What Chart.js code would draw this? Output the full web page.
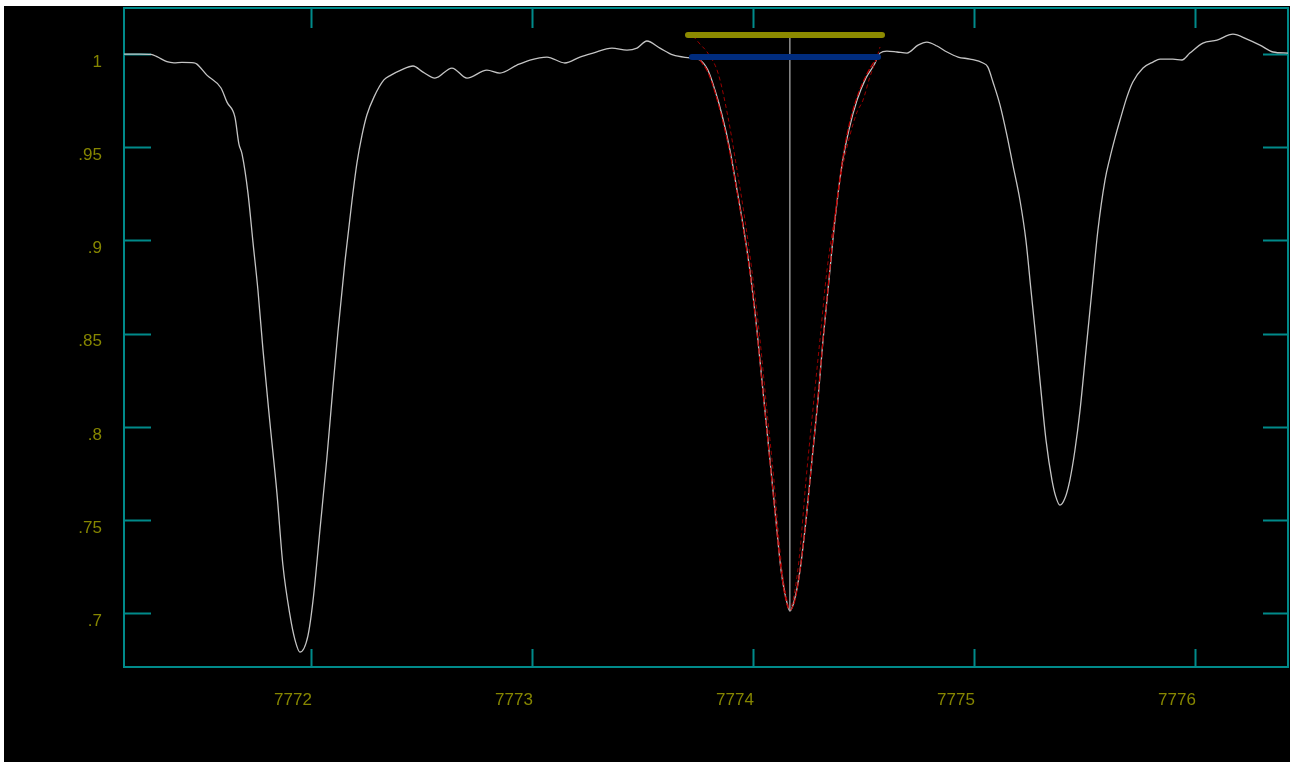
<!DOCTYPE html>
<html>
<head>
<meta charset="utf-8">
<script src="https://cdn.jsdelivr.net/npm/chart.js"></script>
<style>
  html, body { margin: 0; padding: 0; background: #ffffff; }
  #wrap { position: absolute; left: 4px; top: 6px; width: 1286px; height: 756px; background: #000000; }
</style>
</head>
<body>
<div id="wrap"><canvas id="spec" width="1286" height="756"></canvas></div>
<script>
// axis ranges and ticks //
const xMin = 7771.154, xMax = 7776.421;
const yMin = 0.6712, yMax = 1.0247;
const xTicks = [7772, 7773, 7774, 7775, 7776];
const xTickLabels = ['7772', '7773', '7774', '7775', '7776'];
const yTicks = [0.7, 0.75, 0.8, 0.85, 0.9, 0.95, 1];
const yTickLabels = ['.7', '.75', '.8', '.85', '.9', '.95', '1'];

// observed spectrum //
const waveObs = [
  7771.154, 7771.226, 7771.276, 7771.303, 7771.348, 7771.380, 7771.416, 7771.471, 7771.484, 7771.529,
  7771.593, 7771.620, 7771.656, 7771.674, 7771.688, 7771.715, 7771.738, 7771.760, 7771.783, 7771.814,
  7771.846, 7771.873, 7771.905, 7771.928, 7771.950, 7771.986, 7772.009, 7772.041, 7772.072, 7772.100,
  7772.122, 7772.154, 7772.186, 7772.208, 7772.231, 7772.253, 7772.285, 7772.330, 7772.362, 7772.407,
  7772.462, 7772.507, 7772.561, 7772.638, 7772.706, 7772.796, 7772.855, 7772.932, 7772.991, 7773.068,
  7773.149, 7773.217, 7773.276, 7773.362, 7773.430, 7773.475, 7773.520, 7773.579, 7773.638, 7773.715,
  7773.760, 7773.796, 7773.828, 7773.860, 7773.896, 7773.928, 7773.959, 7773.986, 7774.018, 7774.045,
  7774.077, 7774.104, 7774.127, 7774.149, 7774.167, 7774.190, 7774.213, 7774.240, 7774.267, 7774.294,
  7774.317, 7774.344, 7774.371, 7774.403, 7774.434, 7774.471, 7774.511, 7774.548, 7774.575, 7774.606,
  7774.652, 7774.697, 7774.747, 7774.787, 7774.833, 7774.878, 7774.928, 7774.982, 7775.041, 7775.063,
  7775.086, 7775.118, 7775.149, 7775.176, 7775.208, 7775.235, 7775.258, 7775.281, 7775.303, 7775.326,
  7775.353, 7775.371, 7775.389, 7775.412, 7775.434, 7775.457, 7775.480, 7775.507, 7775.534, 7775.561,
  7775.593, 7775.615, 7775.638, 7775.661, 7775.692, 7775.719, 7775.765, 7775.810, 7775.842, 7775.900,
  7775.941, 7775.977, 7776.036, 7776.100, 7776.172, 7776.235, 7776.294, 7776.353, 7776.421
];
const fluxObs = [
  1.0000, 1.0000, 0.9998, 0.9986, 0.9959, 0.9953, 0.9955, 0.9953, 0.9946, 0.9887,
  0.9818, 0.9742, 0.9662, 0.9517, 0.9464, 0.9254, 0.8986, 0.8734, 0.8412, 0.8026,
  0.7645, 0.7259, 0.6990, 0.6856, 0.6792, 0.6878, 0.7065, 0.7452, 0.7833, 0.8219,
  0.8509, 0.8889, 0.9217, 0.9415, 0.9565, 0.9673, 0.9769, 0.9861, 0.9887, 0.9914,
  0.9936, 0.9903, 0.9871, 0.9925, 0.9871, 0.9914, 0.9898, 0.9941, 0.9968, 0.9984,
  0.9952, 0.9984, 1.0005, 1.0032, 1.0021, 1.0032, 1.0070, 1.0032, 0.9995, 0.9979,
  0.9968, 0.9914, 0.9807, 0.9673, 0.9485, 0.9270, 0.9056, 0.8841, 0.8519, 0.8197,
  0.7822, 0.7500, 0.7232, 0.7082, 0.7012, 0.7082, 0.7232, 0.7500, 0.7822, 0.8144,
  0.8466, 0.8788, 0.9109, 0.9405, 0.9592, 0.9753, 0.9871, 0.9941, 1.0005, 1.0016,
  1.0011, 1.0005, 1.0048, 1.0064, 1.0043, 1.0011, 0.9984, 0.9973, 0.9952, 0.9930,
  0.9850, 0.9726, 0.9565, 0.9405, 0.9217, 0.9002, 0.8734, 0.8466, 0.8197, 0.7929,
  0.7715, 0.7623, 0.7580, 0.7618, 0.7715, 0.7876, 0.8090, 0.8412, 0.8734, 0.9056,
  0.9324, 0.9442, 0.9549, 0.9646, 0.9769, 0.9850, 0.9925, 0.9957, 0.9973, 0.9973,
  0.9968, 1.0005, 1.0059, 1.0075, 1.0107, 1.0080, 1.0048, 1.0011, 1.0005
];

// line fit //
const waveFit = [
  7773.760, 7773.796, 7773.828, 7773.860, 7773.896, 7773.928, 7773.959, 7773.986, 7774.018, 7774.045,
  7774.077, 7774.104, 7774.127, 7774.149, 7774.167, 7774.190, 7774.213, 7774.240, 7774.267, 7774.294,
  7774.317, 7774.344, 7774.371, 7774.403, 7774.434, 7774.471, 7774.511, 7774.548, 7774.566
];
const fluxFit = [
  0.9968, 0.9903, 0.9796, 0.9657, 0.9469, 0.9260, 0.9045, 0.8830, 0.8509, 0.8187,
  0.7811, 0.7489, 0.7232, 0.7071, 0.7017, 0.7071, 0.7232, 0.7500, 0.7822, 0.8155,
  0.8466, 0.8798, 0.9120, 0.9415, 0.9614, 0.9769, 0.9882, 0.9957, 0.9979
];
const waveFitWide = [
  7773.729, 7773.760, 7773.796, 7773.842, 7773.887, 7773.928, 7773.964, 7773.995, 7774.032, 7774.063,
  7774.095, 7774.122, 7774.145, 7774.167, 7774.190, 7774.213, 7774.240, 7774.271, 7774.303, 7774.335,
  7774.371, 7774.403, 7774.439, 7774.471, 7774.498, 7774.529, 7774.557, 7774.575
];
const fluxFitWide = [
  1.0097, 1.0054, 1.0005, 0.9898, 0.9662, 0.9378, 0.9109, 0.8841, 0.8466, 0.8090,
  0.7715, 0.7339, 0.7124, 0.7028, 0.7124, 0.7339, 0.7715, 0.8090, 0.8466, 0.8841,
  0.9136, 0.9378, 0.9565, 0.9689, 0.9753, 0.9877, 0.9968, 1.0038
];

// markers: line centre, continuum levels //
const lineCentre = 7774.167;
const lineDepthFlux = [1.0102, 0.7012];
const topLevelWave = [7773.706, 7774.584];
const topLevelFlux = 1.0102;
const contLevelWave = [7773.724, 7774.566];
const contLevelFlux = 0.9984;

const frameColor = '#008a8a';
const labelColor = '#868600';

const pts = (xs, ys) => xs.map((x, i) => ({ x: x, y: ys[i] }));

// frame + inward ticks //
const framePlugin = {
  id: 'frame',
  beforeDatasetsDraw(chart) {
    const c = chart.ctx, a = chart.chartArea;
    const sx = chart.scales.x, sy = chart.scales.y;
    c.save();
    c.strokeStyle = frameColor;
    c.lineWidth = 2;
    c.strokeRect(a.left, a.top, a.right - a.left, a.bottom - a.top);
    c.beginPath();
    xTicks.forEach(v => {
      const px = Math.round(sx.getPixelForValue(v)) + 0.5;
      c.moveTo(px, a.top); c.lineTo(px, a.top + 20);
      c.moveTo(px, a.bottom); c.lineTo(px, a.bottom - 18);
    });
    yTicks.forEach(v => {
      const py = Math.round(sy.getPixelForValue(v)) + 0.5;
      c.moveTo(a.left, py); c.lineTo(a.left + 27, py);
      c.moveTo(a.right, py); c.lineTo(a.right - 25, py);
    });
    c.stroke();
    c.restore();
  }
};

new Chart(document.getElementById('spec'), {
  type: 'scatter',
  data: {
    datasets: [
      {
        data: pts([lineCentre, lineCentre], lineDepthFlux),
        showLine: true, borderColor: '#b4b4b4', borderWidth: 1.2, pointRadius: 0, order: 1
      },
      {
        data: pts(topLevelWave, [topLevelFlux, topLevelFlux]),
        showLine: true, borderColor: '#8c8a00', borderWidth: 6, borderCapStyle: 'round', pointRadius: 0, order: 0
      },
      {
        data: pts(contLevelWave, [contLevelFlux, contLevelFlux]),
        showLine: true, borderColor: '#002c7e', borderWidth: 6, borderCapStyle: 'round', pointRadius: 0, order: 0
      },
      {
        data: pts(waveFitWide, fluxFitWide),
        showLine: true, borderColor: '#9a0000', borderWidth: 1, borderDash: [4, 3], pointRadius: 0, cubicInterpolationMode: 'monotone', order: 3
      },
      {
        data: pts(waveFit, fluxFit),
        showLine: true, borderColor: '#c00000', borderWidth: 1.2, borderDash: [6, 2], pointRadius: 0, cubicInterpolationMode: 'monotone', order: 2
      },
      {
        data: pts(waveObs, fluxObs),
        showLine: true, borderColor: '#c4c4c4', borderWidth: 1.3, pointRadius: 0, cubicInterpolationMode: 'monotone', order: 4
      }
    ]
  },
  options: {
    responsive: false,
    animation: false,
    devicePixelRatio: 1,
    layout: { padding: { left: 0, top: 2, right: 2, bottom: 0 } },
    plugins: { legend: { display: false }, tooltip: { enabled: false } },
    scales: {
      x: {
        type: 'linear', min: xMin, max: xMax,
        afterBuildTicks: s => { s.ticks = xTicks.map(v => ({ value: v })); },
        afterFit: s => { s.height = 95; s.paddingLeft = 0; s.paddingRight = 0; },
        grid: { display: false, drawTicks: false },
        border: { display: false },
        ticks: {
          color: labelColor, font: { family: 'Liberation Sans', size: 17 },
          padding: 23, labelOffset: -18, maxRotation: 0, autoSkip: false,
          callback: v => xTickLabels[xTicks.indexOf(v)]
        }
      },
      y: {
        type: 'linear', min: yMin, max: yMax,
        afterBuildTicks: s => { s.ticks = yTicks.map(v => ({ value: v })); },
        afterFit: s => { s.width = 120; s.paddingTop = 0; s.paddingBottom = 0; },
        grid: { display: false, drawTicks: false },
        border: { display: false },
        ticks: {
          color: labelColor, font: { family: 'Liberation Sans', size: 17 },
          padding: 22, labelOffset: 8, autoSkip: false,
          callback: v => yTickLabels[yTicks.indexOf(v)]
        }
      }
    }
  },
  plugins: [framePlugin]
});
</script>
</body>
</html>
